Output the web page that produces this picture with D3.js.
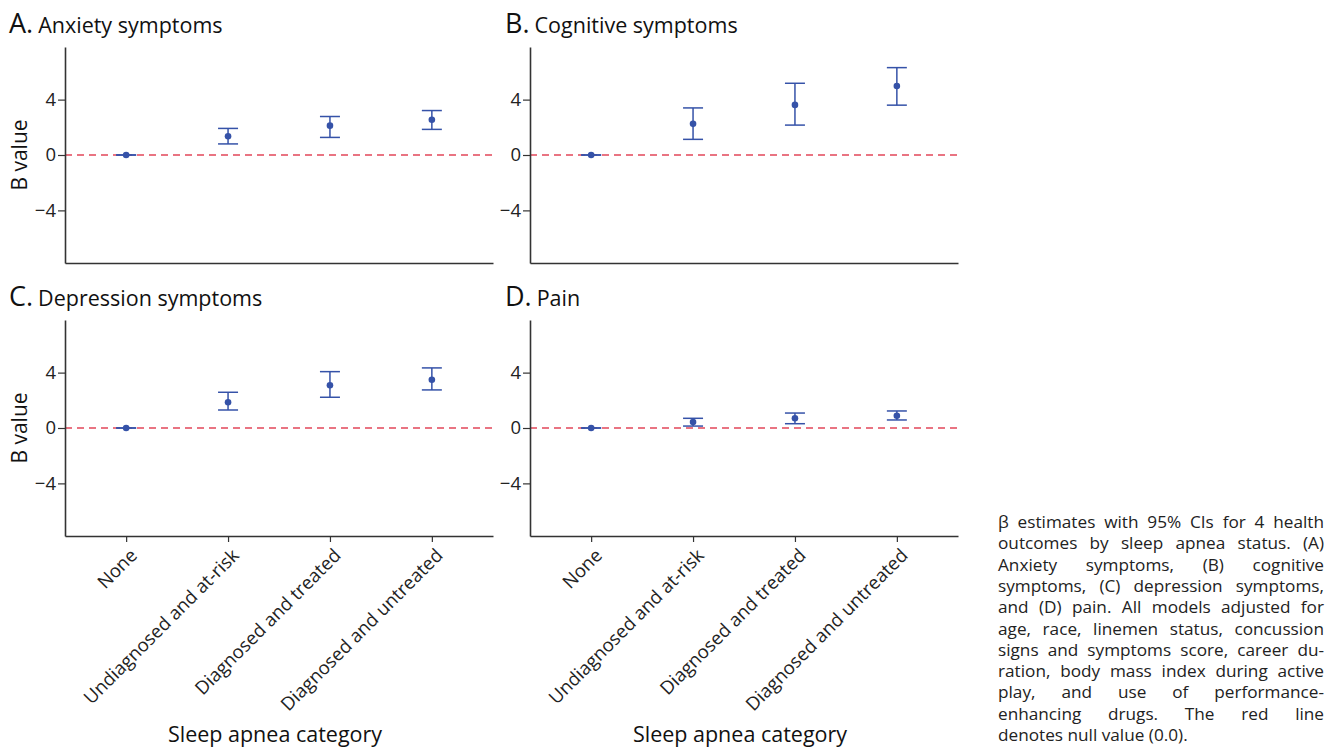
<!DOCTYPE html>
<html>
<head>
<meta charset="utf-8">
<script src="https://cdn.jsdelivr.net/npm/d3@7"></script>
<style>
  body { margin: 0; background: #fff; }
  svg { font-family: "Open Sans", sans-serif; }
</style>
</head>
<body>
<div id="chart"></div>
<script>
const categories = ["None", "Undiagnosed and at-risk", "Diagnosed and treated", "Diagnosed and untreated"];
const yTicks = [-4, 0, 4];

const anxietyEst = [0, 1.35, 2.12, 2.55];
const anxietyLo  = [0, 0.80, 1.27, 1.85];
const anxietyHi  = [0, 1.92, 2.78, 3.21];

const cognitiveEst = [0, 2.25, 3.62, 4.98];
const cognitiveLo  = [0, 1.13, 2.16, 3.60];
const cognitiveHi  = [0, 3.40, 5.18, 6.31];

const depressionEst = [0, 1.86, 3.09, 3.49];
const depressionLo  = [0, 1.30, 2.22, 2.75];
const depressionHi  = [0, 2.58, 4.07, 4.34];

const painEst = [0, 0.43, 0.70, 0.89];
const painLo  = [0, 0.14, 0.31, 0.58];
const painHi  = [0, 0.70, 1.08, 1.23];

const captionLines = [
  "β estimates with 95% CIs for 4 health",
  "outcomes by sleep apnea status. (A)",
  "Anxiety symptoms, (B) cognitive",
  "symptoms, (C) depression symptoms,",
  "and (D) pain. All models adjusted for",
  "age, race, linemen status, concussion",
  "signs and symptoms score, career du-",
  "ration, body mass index during active",
  "play, and use of performance-",
  "enhancing drugs. The red line",
  "denotes null value (0.0)."
];

const panels = [
  { letter: "A.", title: "Anxiety symptoms", est: anxietyEst, lo: anxietyLo, hi: anxietyHi, col: 0, row: 0 },
  { letter: "B.", title: "Cognitive symptoms", est: cognitiveEst, lo: cognitiveLo, hi: cognitiveHi, col: 1, row: 0 },
  { letter: "C.", title: "Depression symptoms", est: depressionEst, lo: depressionLo, hi: depressionHi, col: 0, row: 1 },
  { letter: "D.", title: "Pain", est: painEst, lo: painLo, hi: painHi, col: 1, row: 1 }
];

const W = 1336, H = 747;
const colLeft = [65, 530];
const plotW = 428;
const rowTop = [47, 320];
const plotH = 216;
const blue = "#3552a8";
const axisCol = "#333";

const svg = d3.select("#chart").append("svg").attr("width", W).attr("height", H);

panels.forEach(p => {
  const left = colLeft[p.col], top = rowTop[p.row];
  const x = d3.scalePoint().domain(categories).range([left, left + plotW]).padding(0.6);
  const y = d3.scaleLinear().domain([-7.8, 7.8]).range([top + plotH, top]);
  const g = svg.append("g");

  // panel title
  const t = g.append("text").attr("x", p.col ? left - 25 : left - 56).attr("y", top - 14).attr("fill", "#111");
  t.append("tspan").attr("font-size", 27).text(p.letter);
  t.append("tspan").attr("font-size", 21.5).attr("dx", 5).text(p.title);

  // null line
  g.append("line")
    .attr("x1", left).attr("x2", left + plotW)
    .attr("y1", y(0)).attr("y2", y(0))
    .attr("stroke", "#e2475a").attr("stroke-width", 1.6)
    .attr("stroke-dasharray", "7,5");

  // y axis
  const ya = g.append("g").attr("transform", `translate(${left},0)`)
    .call(d3.axisLeft(y).tickValues(yTicks).tickSize(7).tickSizeOuter(0).tickPadding(2));
  ya.select(".domain").attr("stroke", axisCol).attr("stroke-width", 1.6);
  ya.selectAll(".tick line").attr("stroke", axisCol).attr("stroke-width", 1.2);
  ya.selectAll(".tick text").attr("font-size", 18.5).attr("fill", "#222").attr("font-family", "Open Sans");

  // x axis
  const bottomRow = p.row === 1;
  const xa = g.append("g").attr("transform", `translate(0,${top + plotH})`)
    .call(d3.axisBottom(x).tickSize(bottomRow ? 6 : 0).tickSizeOuter(0));
  xa.select(".domain").attr("stroke", axisCol).attr("stroke-width", 1.6);
  xa.selectAll(".tick line").attr("stroke", axisCol).attr("stroke-width", 1.2);
  if (bottomRow) {
    xa.selectAll(".tick text")
      .attr("font-size", 18.5).attr("fill", "#222").attr("font-family", "Open Sans")
      .attr("text-anchor", "end")
      .attr("transform", "translate(7,16) rotate(-45)")
      .attr("dy", "0.35em").attr("y", 0).attr("x", 0);
    g.append("text")
      .attr("x", left + plotW / 2 - 4).attr("y", 742)
      .attr("text-anchor", "middle").attr("font-size", 21.5).attr("fill", "#111")
      .text("Sleep apnea category");
  } else {
    xa.selectAll(".tick text").remove();
  }

  if (p.col === 0) {
    g.append("text")
      .attr("transform", `translate(27,${y(0)}) rotate(-90)`)
      .attr("text-anchor", "middle").attr("font-size", 21).attr("fill", "#111")
      .text("B value");
  }

  // error bars and estimates
  const capW = 10;
  categories.forEach((c, i) => {
    const cx = x(c);
    g.append("line").attr("x1", cx).attr("x2", cx).attr("y1", y(p.lo[i])).attr("y2", y(p.hi[i]))
      .attr("stroke", blue).attr("stroke-width", 1.5);
    [p.lo[i], p.hi[i]].forEach(v => {
      g.append("line").attr("x1", cx - capW).attr("x2", cx + capW).attr("y1", y(v)).attr("y2", y(v))
        .attr("stroke", blue).attr("stroke-width", 1.5);
    });
    g.append("circle").attr("cx", cx).attr("cy", y(p.est[i])).attr("r", 3.3).attr("fill", blue);
  });
});

// caption, justified
const capX = 998, capRight = 1324, capY0 = 528, capLH = 21.3;
captionLines.forEach((line, i) => {
  const t = svg.append("text").attr("x", capX).attr("y", capY0 + i * capLH)
    .attr("font-size", 17.2).attr("fill", "#222").text(line);
  if (i < captionLines.length - 1) {
    const w = t.node().getComputedTextLength();
    const gaps = line.split(" ").length - 1;
    if (gaps > 0) t.attr("word-spacing", ((capRight - capX) - w) / gaps);
  }
});
</script>
</body>
</html>
